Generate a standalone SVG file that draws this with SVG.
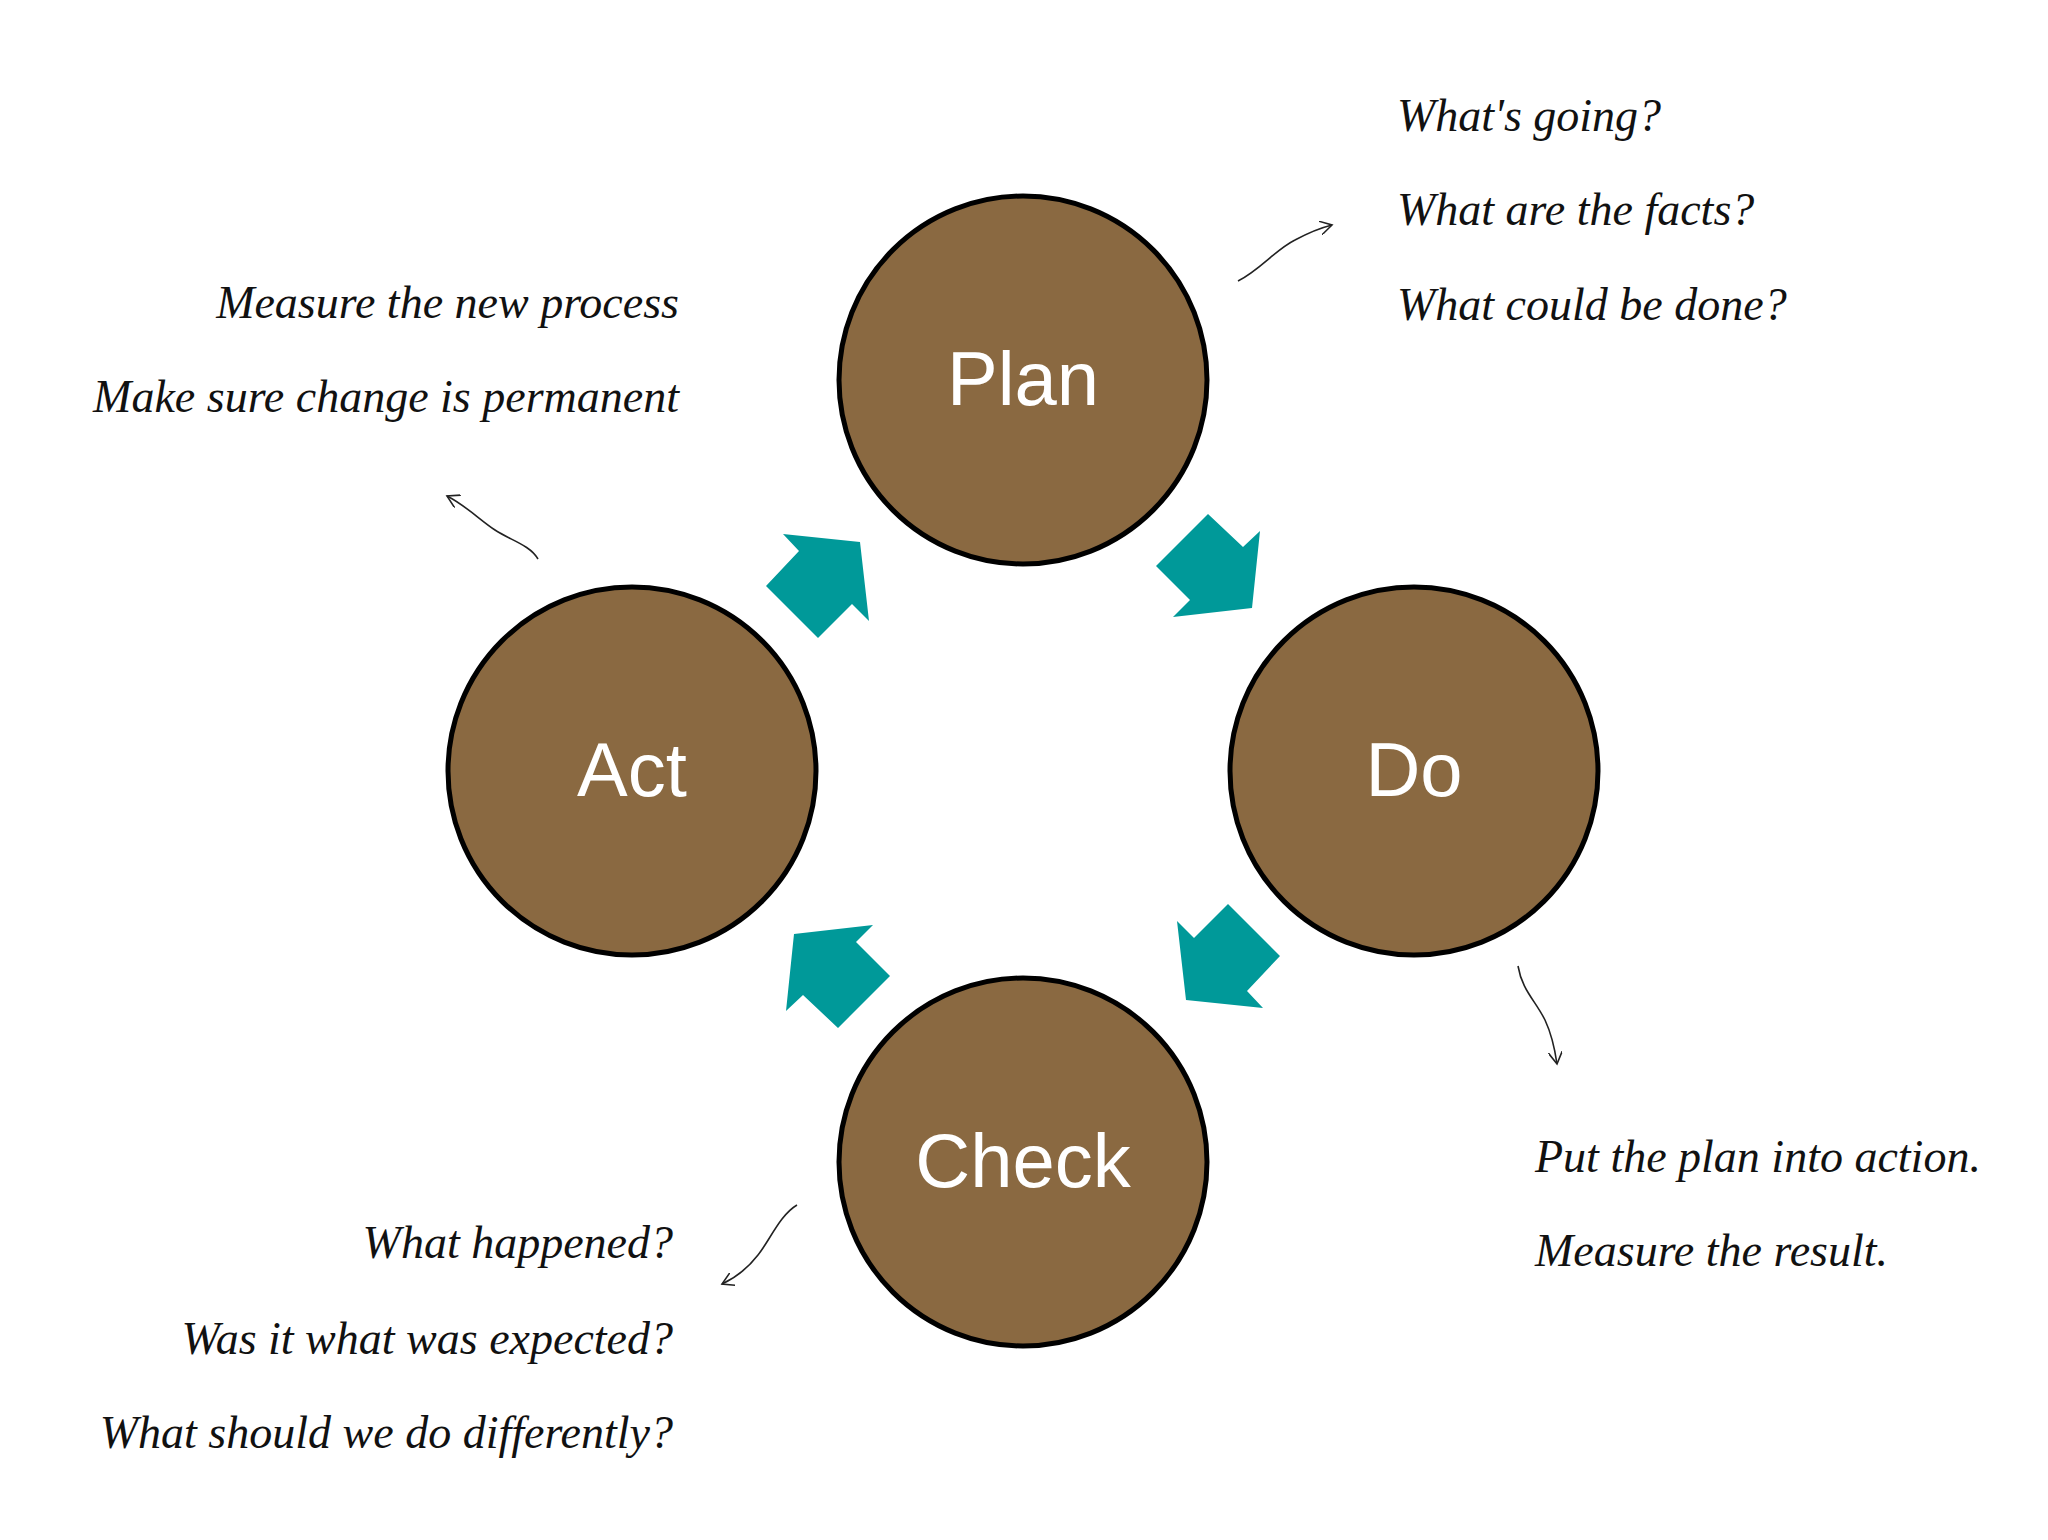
<svg xmlns="http://www.w3.org/2000/svg" width="2048" height="1540" viewBox="0 0 2048 1540">
<style>
.c{fill:#8A6941;stroke:#000;stroke-width:5}
.l{fill:#fff;font-family:"Liberation Sans Narrow","Liberation Sans",sans-serif;font-size:76px;text-anchor:middle}
.h{fill:#111;font-family:"Liberation Serif",serif;font-style:italic;font-size:46px}
.r{text-anchor:end}
.a{fill:#009999}
.t{fill:none;stroke:#222;stroke-width:1.6}
</style>
<defs><marker id="m" markerWidth="14" markerHeight="14" refX="12" refY="7" orient="auto" markerUnits="userSpaceOnUse"><path d="M0,0 L12,7 L0,14" fill="none" stroke="#222" stroke-width="1.6"/></marker>
<polygon id="ar" points="1208,514 1243,547 1260,531 1252,608 1173,617 1190,600 1156,566"/></defs>
<rect width="2048" height="1540" fill="#fff"/>
<g id="plan"><circle class="c" cx="1023" cy="380" r="184"/><text class="l" x="1023" y="405">Plan</text></g>
<g id="do"><circle class="c" cx="1414" cy="771" r="184"/><text class="l" x="1414" y="796">Do</text></g>
<g id="check"><circle class="c" cx="1023" cy="1162" r="184"/><text class="l" x="1023" y="1187">Check</text></g>
<g id="act"><circle class="c" cx="632" cy="771" r="184"/><text class="l" x="632" y="796">Act</text></g>
<g id="connectors">
<use href="#ar" class="a"/>
<use href="#ar" class="a" transform="rotate(90 1023 771)"/>
<use href="#ar" class="a" transform="rotate(180 1023 771)"/>
<use href="#ar" class="a" transform="rotate(270 1023 771)"/>
<path class="t" d="M1238,281 C1260,270 1275,250 1295,240 C1310,232 1320,228 1332,225" marker-end="url(#m)"/>
<path class="t" d="M538,559 C530,545 510,540 495,530 C480,520 465,505 447,496" marker-end="url(#m)"/>
<path class="t" d="M1518,966 C1522,990 1535,1000 1545,1020 C1552,1035 1555,1050 1557,1064" marker-end="url(#m)"/>
<path class="t" d="M797,1205 C780,1215 770,1240 758,1255 C748,1268 735,1278 722,1284" marker-end="url(#m)"/>
</g>
<g id="notes">
<text class="h" x="1397" y="131">What's going?</text>
<text class="h" x="1397" y="225">What are the facts?</text>
<text class="h" x="1397" y="320">What could be done?</text>
<text class="h r" x="679" y="318">Measure the new process</text>
<text class="h r" x="679" y="412">Make sure change is permanent</text>
<text class="h" x="1535" y="1172">Put the plan into action.</text>
<text class="h" x="1535" y="1266">Measure the result.</text>
<text class="h r" x="673" y="1258">What happened?</text>
<text class="h r" x="673" y="1354">Was it what was expected?</text>
<text class="h r" x="673" y="1448">What should we do differently?</text>
</g>
</svg>
